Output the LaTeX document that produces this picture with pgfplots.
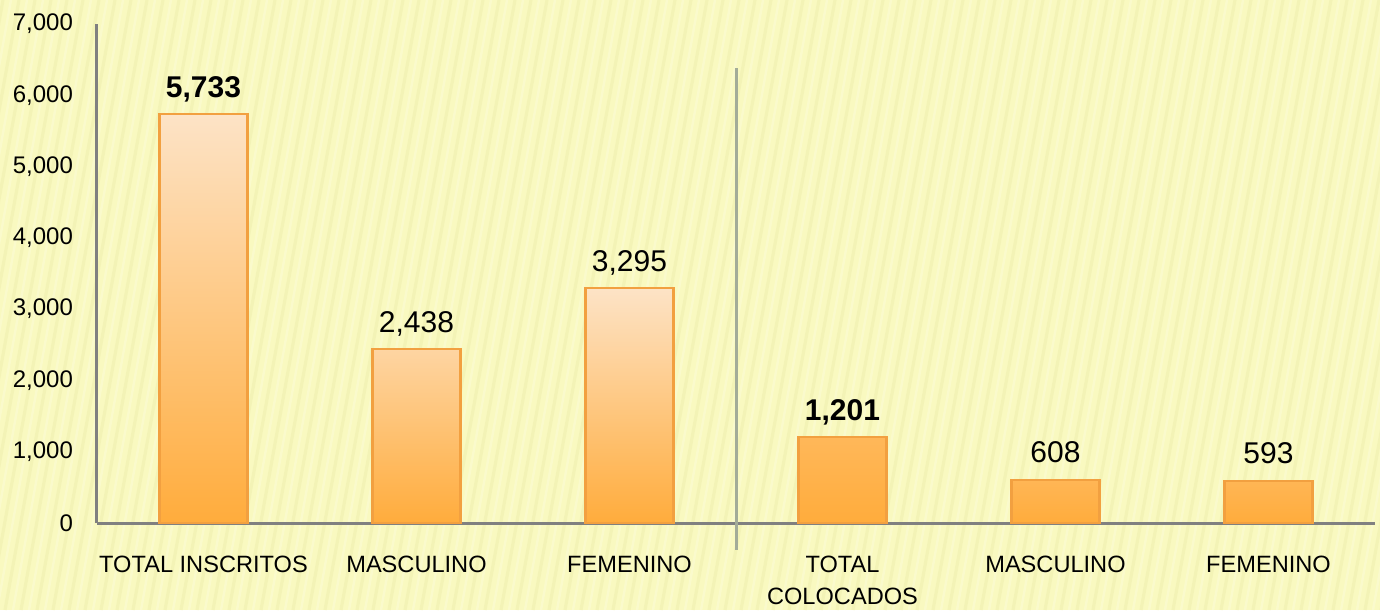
\documentclass[border=0pt]{standalone}
\usepackage{pgfplots}
\pgfplotsset{compat=1.18}
\usepackage{fontspec}
\setmainfont{Liberation Sans}
\definecolor{bg}{HTML}{F9F9C0}
\definecolor{stripe}{HTML}{EEEEAE}
\definecolor{stripeL}{HTML}{FCFCD4}
\definecolor{barTop}{HTML}{FDE3C6}
\definecolor{barBot}{HTML}{FFAC3C}
\definecolor{barEdge}{HTML}{F2A040}
\definecolor{axisGray}{HTML}{808080}
\definecolor{sepLine}{HTML}{A3AC98}
\begin{document}
\begin{tikzpicture}
\fill[bg] (-48.5pt,-43.5pt) rectangle (641.5pt,261.5pt);
\begin{scope}
\clip (-48.5pt,-43.5pt) rectangle (641.5pt,261.5pt);
\foreach \i in {0,...,95} {
  \draw[stripe, line width=1.6pt, opacity=0.5] ({-110pt+\i*8pt},-43.5pt) -- ++(55pt,305pt);
  \draw[stripeL, line width=1.2pt, opacity=0.6] ({-106pt+\i*8pt},-43.5pt) -- ++(55pt,305pt);
}
\end{scope}
\begin{axis}[at={(0,0)}, anchor=south west, scale only axis,
  width=639pt, height=249.5pt,
  xmin=-0.5, xmax=5.5, ymin=0, ymax=7000,
  axis x line=bottom, axis y line=left,
  axis line style={-, axisGray, line width=1.5pt},
  major tick length=0pt,
  xtick={0,...,5},
  xticklabels={TOTAL INSCRITOS, MASCULINO, FEMENINO, {TOTAL\\COLOCADOS}, MASCULINO, FEMENINO},
  xticklabel style={align=center, font=\fontsize{11.8}{16}\selectfont, yshift=-13pt},
  ytick={0,1000,...,7000},
  yticklabel style={font=\fontsize{12}{14}\selectfont, xshift=-8.5pt},
  ybar, bar width=44pt, bar shift=0pt,
  clip=false,
  /pgf/number format/1000 sep={,},
  /pgf/number format/assume math mode=true,
  nodes near coords,
  nodes near coords style={anchor=base, yshift=8.5pt, text=black},
]
\addplot[draw=barEdge, line width=1.1pt, top color=barTop, bottom color=barBot,
  nodes near coords style={font=\fontsize{15}{17}\selectfont\bfseries}]
  coordinates {(0,5733) (3,1201)};
\addplot[draw=barEdge, line width=1.1pt, top color=barTop, bottom color=barBot,
  nodes near coords style={font=\fontsize{15}{17}\selectfont}]
  coordinates {(1,2438) (2,3295) (4,608) (5,593)};
\draw[sepLine, line width=1.5pt] (axis cs:2.5,6382) -- (axis cs:2.5,-379);
\end{axis}
\end{tikzpicture}
\end{document}
